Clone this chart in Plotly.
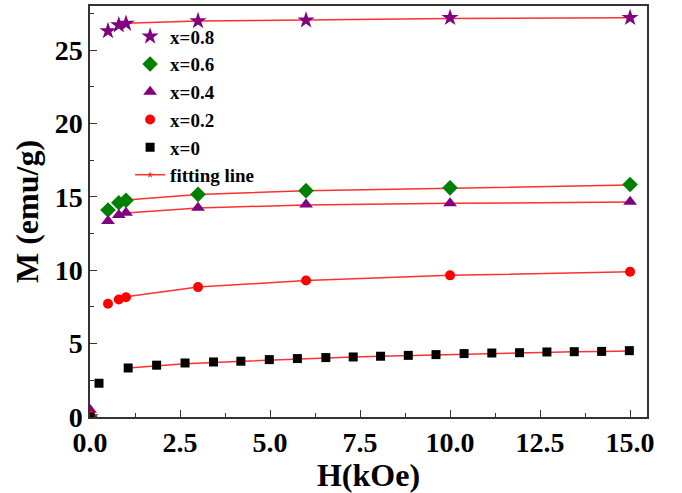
import plotly.graph_objects as go

# ---------------- data ----------------
h_x0 = [0.0, 0.25, 1.06, 1.85, 2.64, 3.43, 4.19, 4.98, 5.76, 6.55, 7.31, 8.07,
        8.84, 9.61, 10.39, 11.16, 11.93, 12.69, 13.45, 14.21, 14.98]
m_x0 = [0.0, 2.3, 3.34, 3.53, 3.68, 3.75, 3.80, 3.91, 3.98, 4.05, 4.09, 4.14,
        4.20, 4.25, 4.32, 4.36, 4.38, 4.43, 4.45, 4.47, 4.52]

h_std = [0.0, 0.5, 0.8, 1.0, 3.0, 6.0, 10.0, 15.0]
m_x02 = [0.1, 7.71, 8.0, 8.16, 8.85, 9.3, 9.65, 9.9]
m_x04 = [0.5, 13.36, 13.76, 13.92, 14.26, 14.47, 14.56, 14.66]
m_x06 = [0.0, 14.1, 14.6, 14.76, 15.17, 15.42, 15.61, 15.84]
m_x08 = [0.0, 26.3, 26.7, 26.8, 26.98, 27.03, 27.2, 27.2]

# fitting lines
fit_h0 = [1.06, 1.85, 2.64, 3.43, 4.19, 4.98, 5.76, 6.55, 7.31, 8.07,
          8.84, 9.61, 10.39, 11.16, 11.93, 12.69, 13.45, 14.21, 14.98]
fit_m0 = [3.34, 3.50, 3.63, 3.72, 3.80, 3.88, 3.96, 4.03, 4.09, 4.14,
          4.19, 4.24, 4.29, 4.33, 4.37, 4.41, 4.44, 4.47, 4.50]
fit_h = [1.0, 3.0, 6.0, 10.0, 15.0]
fit_m02 = [8.2, 8.85, 9.3, 9.65, 9.9]
fit_m04 = [13.9, 14.24, 14.45, 14.56, 14.64]
fit_m06 = [14.78, 15.15, 15.42, 15.6, 15.8]
fit_m08 = [26.82, 26.97, 27.05, 27.15, 27.2]

x_ticks = [0.0, 2.5, 5.0, 7.5, 10.0, 12.5, 15.0]
x_tick_text = ["0.0", "2.5", "5.0", "7.5", "10.0", "12.5", "15.0"]
y_ticks = [0, 5, 10, 15, 20, 25]

FONT = "Times New Roman, Liberation Serif, serif"
FIT_COLOR = "#ff3030"
PURPLE = "#800080"
GREEN = "#008000"
RED = "#ff0000"

fig = go.Figure()

series = [
    ("x=0.8", h_std, m_x08, "star", PURPLE, 13),
    ("x=0.6", h_std, m_x06, "diamond", GREEN, 12),
    ("x=0.4", h_std, m_x04, "triangle-up", PURPLE, 12),
    ("x=0.2", h_std, m_x02, "circle", RED, 10),
    ("x=0", h_x0, m_x0, "square", "black", 9),
]
fits = [(fit_h, fit_m08), (fit_h, fit_m06), (fit_h, fit_m04), (fit_h, fit_m02), (fit_h0, fit_m0)]

for fx, fy in fits:
    fig.add_trace(go.Scatter(x=fx, y=fy, mode="lines", showlegend=False,
                             line=dict(color=FIT_COLOR, width=1.5), hoverinfo="skip"))

for name, xs, ys, sym, col, sz in series:
    fig.add_trace(go.Scatter(x=xs, y=ys, mode="markers", name=name,
                             marker=dict(symbol=sym, color=col, size=sz, line=dict(width=0))))

# legend entry for fitting line
fig.add_trace(go.Scatter(x=[None], y=[None], mode="lines+markers", name="fitting line",
                         line=dict(color=FIT_COLOR, width=1.5),
                         marker=dict(symbol="star", size=5, color=FIT_COLOR)))

axis_common = dict(
    showline=True, linecolor="#333333", linewidth=1.5, mirror=True,
    ticks="inside", ticklen=7, tickwidth=1.2, tickcolor="#333333",
    showgrid=False, zeroline=False,
    tickfont=dict(family=FONT, size=28, color="black", weight="bold"),
)

fig.update_layout(
    width=682, height=493,
    margin=dict(l=90, r=35, t=4, b=76),
    plot_bgcolor="white", paper_bgcolor="white",
    showlegend=True,
    legend=dict(x=0.072, y=0.972, xanchor="left", yanchor="top",
                bgcolor="rgba(0,0,0,0)", borderwidth=0,
                font=dict(family=FONT, size=19, color="black", weight="bold"),
                traceorder="normal", itemwidth=30),
    xaxis=dict(range=[0, 15.47], tickvals=x_ticks, ticktext=x_tick_text,
               minor=dict(ticks="inside", ticklen=4, tickcolor="#333333", dtick=1.25, tick0=0),
               title=dict(text="H(kOe)", standoff=2,
                          font=dict(family=FONT, size=32, color="black", weight="bold")),
               **axis_common),
    yaxis=dict(range=[0, 28], tickvals=y_ticks,
               minor=dict(ticks="inside", ticklen=4, tickcolor="#333333", dtick=2.5, tick0=0),
               title=dict(text="M (emu/g)", standoff=6,
                          font=dict(family=FONT, size=32, color="black", weight="bold")),
               **axis_common),
)

fig.write_html("out.html")
